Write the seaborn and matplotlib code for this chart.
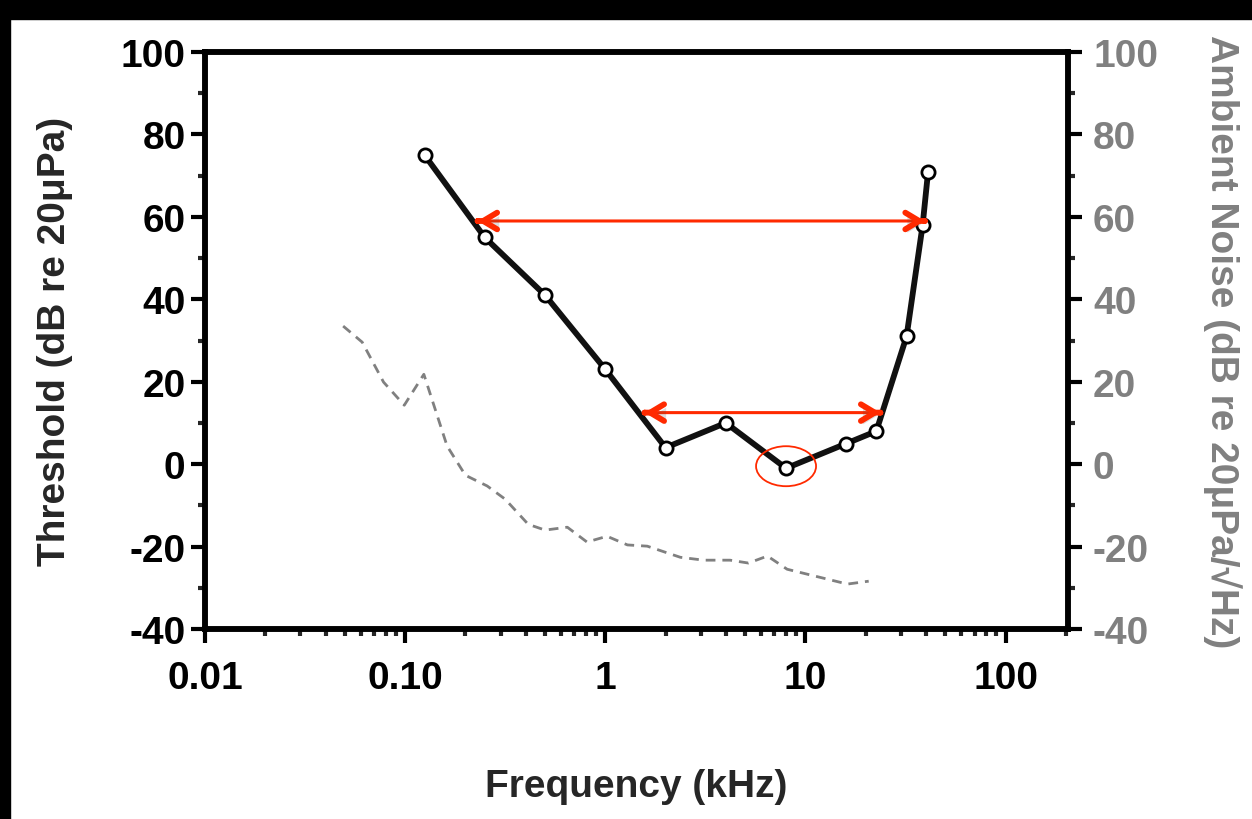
import numpy as np
import pandas as pd
import matplotlib
matplotlib.use("Agg")
import matplotlib.pyplot as plt
import matplotlib.ticker as mticker
import matplotlib.patheffects as pe
from matplotlib.patches import Ellipse, Rectangle
from matplotlib.transforms import ScaledTranslation
import seaborn as sns

# ---- data ----
freq_khz = [0.125, 0.25, 0.5, 1, 2, 4, 8, 16, 22.6, 32, 38.5, 41]
threshold_db = [75, 55, 41, 23, 4, 10, -1, 5, 8, 31, 58, 71]

noise_freq_khz = [0.049, 0.061, 0.078, 0.099, 0.124, 0.162, 0.2, 0.257, 0.316,
                  0.412, 0.5, 0.646, 0.81, 1.02, 1.29, 1.62, 2.37, 3.1, 4.2,
                  5.19, 6.46, 8.1, 16.2, 20.7]
noise_db = [33.5, 29.6, 19.9, 14.3, 21.8, 4.4, -2.7, -5.3, -8.5, -14.6, -16,
            -15.3, -18.9, -17.5, -19.6, -19.9, -22.6, -23.3, -23.3, -24, -22.3,
            -25.5, -29.1, -28.4]

arrow_wide = (0.23, 39.5, 59)     # x_start, x_end, y
arrow_narrow = (1.57, 23.7, 12.5)
best_point = (8, -0.5)

x_ticks = [0.01, 0.1, 1, 10, 100]
x_tick_labels = ["0.01", "0.10", "1", "10", "100"]
y_ticks = [-40, -20, 0, 20, 40, 60, 80, 100]

# ---- style ----
sns.set_style("ticks")
plt.rcParams["font.family"] = ["Liberation Sans", "DejaVu Sans"]
plt.rcParams["font.weight"] = "bold"
plt.rcParams["axes.unicode_minus"] = False

GRAY = "#808080"
RED = "#ff2a00"
SPINE_W = 4.0
TICK_FS = 28
LABEL_FS = 28

fig = plt.figure(figsize=(12.52, 8.2), dpi=100)
ax = fig.add_axes([205 / 1252, 1 - 630 / 820, 863 / 1252, 577 / 820])
ax2 = ax.twinx()

df_thr = pd.DataFrame({"freq": freq_khz, "thr": threshold_db})
df_noise = pd.DataFrame({"freq": noise_freq_khz, "noise": noise_db})

sns.lineplot(data=df_noise, x="freq", y="noise", ax=ax2, color=GRAY,
             linewidth=2.0, linestyle=(0, (3.5, 2.5)), zorder=2)
sns.lineplot(data=df_thr, x="freq", y="thr", ax=ax, color="#111111",
             linewidth=4.2, marker="o", markersize=9.5,
             markerfacecolor="white", markeredgecolor="black",
             markeredgewidth=2.0, zorder=5)

for a in (ax, ax2):
    a.set_xscale("log")
    a.set_xlim(0.01, 205)
    a.set_ylim(-40, 100)
    a.set_yticks(y_ticks)
    a.yaxis.set_minor_locator(mticker.MultipleLocator(10))
    for s in a.spines.values():
        s.set_linewidth(SPINE_W)
        s.set_color("black")
        s.set_visible(True)

ax.set_xticks(x_ticks)
ax.set_xticklabels(x_tick_labels)
ax.xaxis.set_minor_locator(mticker.LogLocator(base=10, subs=np.arange(2, 10)))
ax.xaxis.set_minor_formatter(mticker.NullFormatter())

ax.tick_params(axis="both", which="major", direction="out", length=10,
               width=3.0, labelsize=TICK_FS, pad=4, colors="black")
ax.tick_params(axis="both", which="minor", direction="out", length=5,
               width=3.0)
ax.tick_params(axis="x", which="major", pad=12)
ax.tick_params(axis="y", which="both", right=False)
ax2.tick_params(axis="y", which="major", direction="out", length=10,
                width=3.0, labelsize=TICK_FS, pad=8, labelcolor=GRAY, color="black")
ax2.tick_params(axis="y", which="minor", direction="out", length=5, width=3.0)

for lab in ax.get_xticklabels() + ax.get_yticklabels() + ax2.get_yticklabels():
    lab.set_fontweight("bold")

ax.set_xlabel("Frequency (kHz)", fontsize=LABEL_FS, fontweight="bold",
              va="center", ha="center")
ax.xaxis.set_label_coords(0.5, -0.272)
ax.set_ylabel("Threshold (dB re 20μPa)", fontsize=LABEL_FS, fontweight="bold",
              va="center", ha="center")
ax.yaxis.set_label_coords(-0.174, 0.5)
ax2.set_ylabel("Ambient Noise (dB re 20μPa/√Hz)", fontsize=LABEL_FS,
               fontweight="bold", color=GRAY, rotation=270,
               va="center", ha="center")
ax2.yaxis.set_label_coords(1.1785, 0.5)

# ---- red annotations ----
shadow = [pe.SimplePatchShadow(offset=(1.5, -2.5), alpha=0.18), pe.Normal()]


def head(tip, y, direction):
    dx = 1.002 if direction > 0 else 0.998
    ax.annotate("", xy=(tip, y), xytext=(tip / dx, y),
                arrowprops=dict(arrowstyle="->,head_length=1.0,head_width=0.6",
                                color=RED, lw=4.2, shrinkA=0, shrinkB=0,
                                path_effects=shadow),
                zorder=6)


for (x0, x1, y) in (arrow_wide, arrow_narrow):
    ax.annotate("", xy=(x1, y), xytext=(x0, y),
                arrowprops=dict(arrowstyle="-", color=RED, lw=2.2,
                                shrinkA=0, shrinkB=0, path_effects=shadow),
                zorder=6)
    head(x1, y, +1)
    head(x0, y, -1)

ell = Ellipse((0, 0), 0.6, 0.4, fill=False, edgecolor=RED, lw=1.3,
              transform=fig.dpi_scale_trans + ScaledTranslation(best_point[0], best_point[1], ax.transData),
              zorder=7)
ax.add_patch(ell)

# ---- black frame strips of the original screenshot ----
fig.patches.append(Rectangle((0, 1 - 20 / 820), 1, 20 / 820, transform=fig.transFigure,
                             color="black", zorder=0))
fig.patches.append(Rectangle((0, 0), 10 / 1252, 1, transform=fig.transFigure,
                             color="black", zorder=0))

fig.savefig("out.png", dpi=100, facecolor="white")
